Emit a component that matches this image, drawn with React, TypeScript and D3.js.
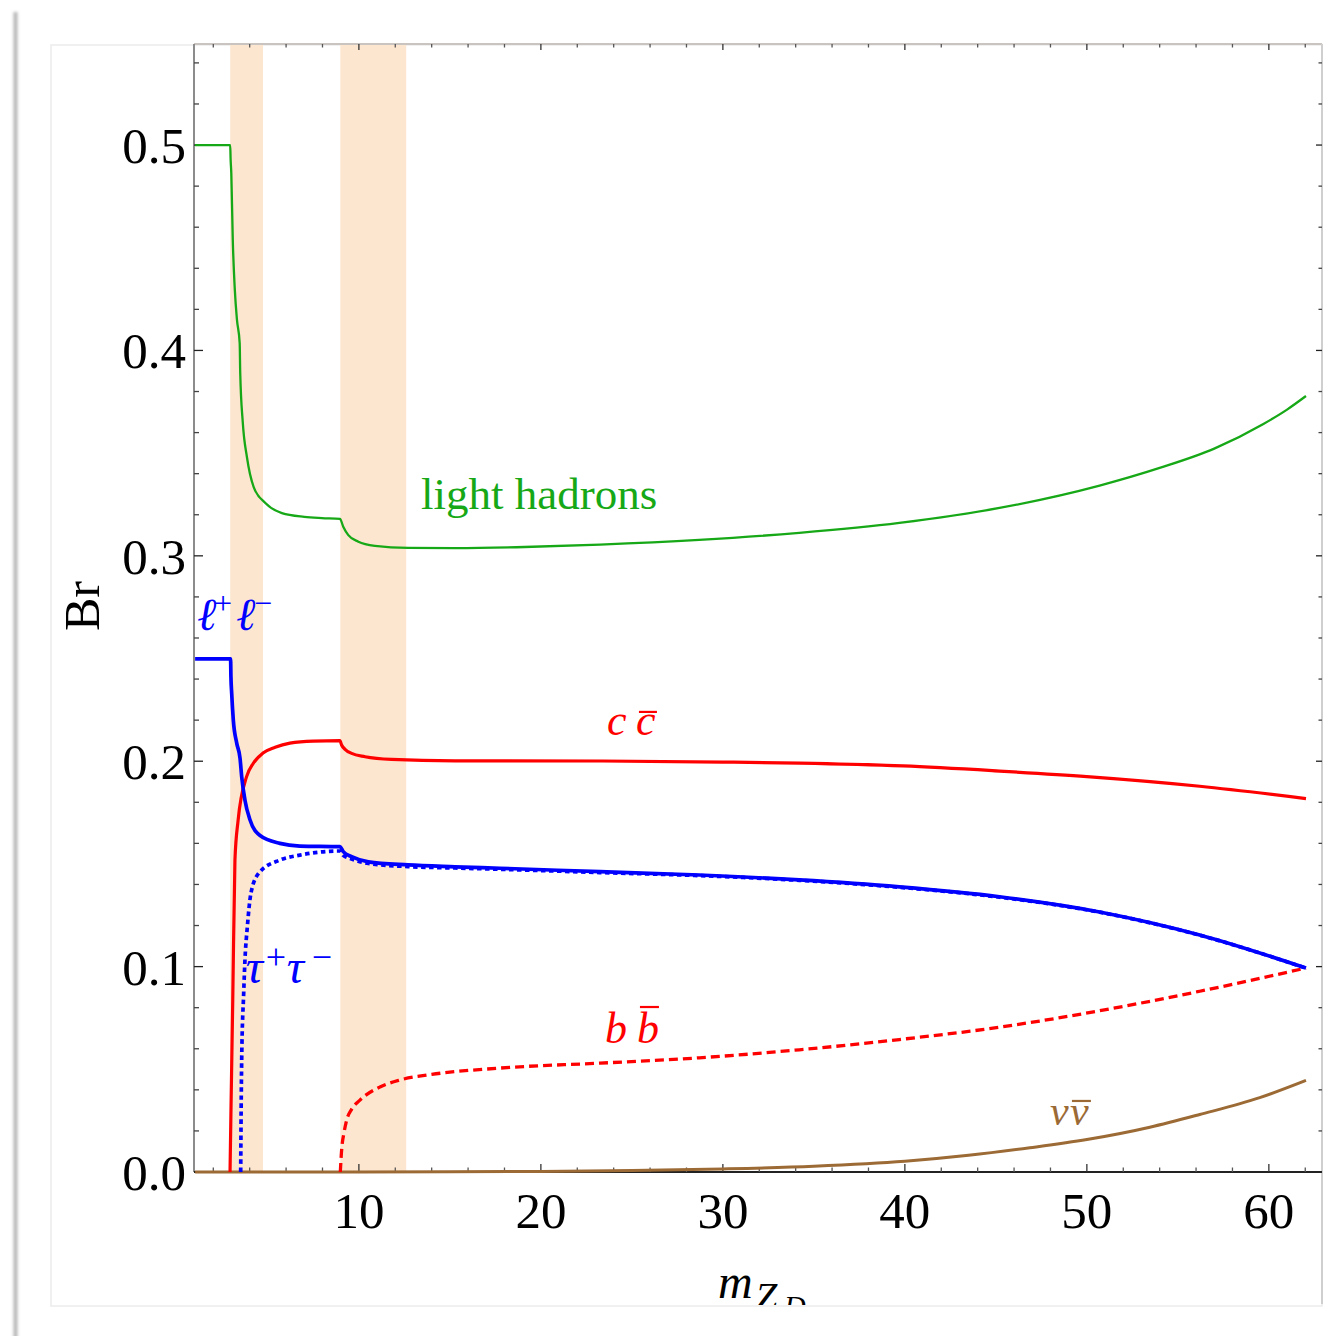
import React from 'react';
import * as d3 from 'd3';

type Pt = [number, number];

// branching ratios, x = m_ZD (GeV)
const lightHadrons: Pt[] = [
  [1.0, 0.5], [2.93, 0.5], [2.95, 0.4935], [2.99, 0.4862], [3.07, 0.454], [3.18, 0.43],
  [3.3, 0.415], [3.45, 0.4036], [3.48, 0.389], [3.62, 0.365], [3.85, 0.348], [4.22, 0.3335],
  [4.86, 0.3257], [5.77, 0.3208], [7.0, 0.319], [7.97, 0.3184], [8.96, 0.318], [9.14, 0.3142],
  [9.42, 0.3101], [9.97, 0.3069], [10.88, 0.3049], [12.71, 0.3039], [15.28, 0.3038],
  [19.1, 0.3043], [23.25, 0.3055], [28.7, 0.3078], [34.2, 0.3112], [39.7, 0.316],
  [45.2, 0.3233], [50.7, 0.3342], [54.0, 0.3428], [57.0, 0.3522], [59.7, 0.3642],
  [61.0, 0.3712], [62.04, 0.3778],
];

const leptonPair: Pt[] = [
  [1.0, 0.2498], [2.95, 0.2498], [2.97, 0.241], [3.01, 0.2332], [3.1, 0.22], [3.29, 0.2087],
  [3.47, 0.2014], [3.56, 0.1925], [3.74, 0.181], [4.02, 0.1714], [4.57, 0.1638], [5.66, 0.16],
  [6.76, 0.1587], [8.96, 0.1584], [9.14, 0.156], [9.6, 0.1535], [10.52, 0.151], [12.7, 0.1495],
  [15.28, 0.1486], [17.75, 0.1479], [23.25, 0.1462], [28.7, 0.1446], [34.2, 0.1422],
  [39.7, 0.1388], [45.2, 0.134], [50.7, 0.1266], [56.2, 0.1154], [62.04, 0.0993],
];

const tauPair: Pt[] = [
  [3.505, 0], [3.53, 0.03], [3.56, 0.0545], [3.67, 0.0871], [3.74, 0.1032], [3.87, 0.1193],
  [4.07, 0.1358], [4.51, 0.1456], [5.66, 0.1519], [6.76, 0.1543], [8.96, 0.1563], [9.13, 0.1543],
  [9.6, 0.1524], [10.52, 0.1502], [12.7, 0.1487], [15.28, 0.148], [17.75, 0.1474], [23.25, 0.1458],
  [28.7, 0.1443], [34.2, 0.142], [39.7, 0.1386], [45.2, 0.1338], [50.7, 0.1265], [56.2, 0.1153],
  [62.04, 0.0993],
];

const charmPair: Pt[] = [
  [2.92, 0], [2.98, 0.035], [3.07, 0.084], [3.19, 0.152], [3.36, 0.171], [3.83, 0.1925],
  [4.2, 0.199], [4.73, 0.204], [5.4, 0.2068], [6.21, 0.2088], [7.5, 0.2098], [8.96, 0.21],
  [9.05, 0.2079], [9.24, 0.2058], [9.6, 0.2038], [10.34, 0.2022], [11.8, 0.2009], [15.28, 0.2002],
  [23.25, 0.2001], [30, 0.1996], [34.2, 0.1991], [39.9, 0.1977], [45.2, 0.1952], [50, 0.1925],
  [56.2, 0.1878], [62.04, 0.1818],
];

const bottomPair: Pt[] = [
  [8.98, 0], [9.03, 0.008], [9.07, 0.0125], [9.18, 0.019], [9.33, 0.0253], [9.6, 0.0305],
  [10.06, 0.035], [11.16, 0.0414], [12.26, 0.0448], [14.0, 0.0475], [17.75, 0.0506],
  [23.25, 0.053], [28.7, 0.0556], [34.2, 0.0595], [39.7, 0.0645], [45.2, 0.0705],
  [50.7, 0.0785], [56.2, 0.088], [62.04, 0.0993],
];

const neutrinoPair: Pt[] = [
  [1, 0], [10, 0], [15, 0.0001], [20, 0.0003], [25, 0.0007], [30, 0.0015], [35, 0.0028],
  [40, 0.0052], [43.5, 0.0081], [46.87, 0.0118], [50, 0.0158], [53.46, 0.0218], [56.2, 0.028],
  [59.5, 0.0362], [62.04, 0.0446],
];

// resonance regions (shaded)
const bands: Pt[] = [[2.93, 4.73], [8.98, 12.6]];

const xMajor = [10, 20, 30, 40, 50, 60];
const xMinor = d3.range(2, 63, 2);
const yMajor = [0, 0.1, 0.2, 0.3, 0.4, 0.5];
const yMinor = d3.range(0, 0.545, 0.02);

const FONT = '"Liberation Serif", "DejaVu Serif", serif';
const GREEN = '#16a816';
const BLUE = '#0000ff';
const RED = '#ff0000';
const BROWN = '#9c6a35';

// glyph runs for the curve labels: [text, dx, dy, fontSize, italic]
type Glyph = [string, number, number, number, boolean];
const leptonGlyphs: Glyph[] = [['ℓ', 0, 0, 46, true], ['+', 17, -16, 32, false], ['ℓ', 39, 0, 46, true], ['−', 57, -16, 32, false]];
const tauGlyphs: Glyph[] = [['τ', 0, 0, 48, true], ['+', 20, -14, 36, false], ['τ', 41, 0, 48, true], ['−', 66, -14, 36, false]];

export default function App() {
  const x = d3.scaleLinear().domain([0.94, 62.92]).range([194, 1322]);
  const y = d3.scaleLinear().domain([0, 0.5492]).range([1172, 44]);
  const [x0, x1] = x.range();
  const [y0, y1] = y.range();

  const line = d3.line<Pt>()
    .x(d => x(d[0]))
    .y(d => y(d[1]))
    .curve(d3.curveMonotoneX);

  const at = (dx: number, dy: number) => `translate(${x(dx)},${y(dy)})`;

  const glyphs = (g: Glyph[], color: string) => g.map(([t, dx, dy, fs, it], i) => (
    <text key={i} x={dx} y={dy} fontSize={fs} fontStyle={it ? 'italic' : 'normal'} fill={color}>{t}</text>
  ));

  return (
    <svg width={1334} height={1336} style={{ position: 'absolute', left: 0, top: 0, background: '#fff' }}
      fontFamily={FONT}>
      <defs>
        <filter id="blur" filterUnits="userSpaceOnUse" x={0} y={0} width={40} height={1336}>
          <feGaussianBlur stdDeviation="1.8" />
        </filter>
        <clipPath id="frameClip">
          <rect x={0} y={0} width={1334} height={1305} />
        </clipPath>
      </defs>

      {/* page shadow and outer frame */}
      <rect x={13.5} y={12} width={4} height={1330} fill="#b5b5b5" filter="url(#blur)" />
      <rect x={51} y={45} width={1271} height={1261} fill="none" stroke="#ececec" strokeWidth={1.5} />

      {/* bands */}
      {bands.map(([a, b], i) => (
        <rect key={i} x={x(a)} y={y1} width={x(b) - x(a)} height={y0 - y1} fill="#fde6cf" />
      ))}

      {/* frame */}
      <line x1={x0} y1={y1} x2={x1} y2={y1} stroke="#c9c4bf" strokeWidth={2} />
      <line x1={x1} y1={y1} x2={x1} y2={1304} stroke="#cfcfcf" strokeWidth={2} />
      <line x1={x0} y1={y1} x2={x0} y2={y0} stroke="#8c8c8c" strokeWidth={2} />
      <line x1={x0} y1={y0} x2={x1} y2={y0} stroke="#222" strokeWidth={2} />

      {/* ticks */}
      {xMinor.map(v => {
        const major = xMajor.includes(v);
        return (
          <g key={'xt' + v} stroke={major ? '#333' : '#555'} strokeWidth={1.3}>
            <line x1={x(v)} x2={x(v)} y1={y0} y2={y0 - (major ? 8 : 4.5)} />
            <line x1={x(v)} x2={x(v)} y1={y1} y2={y1 + (major ? 6 : 3.5)} />
          </g>
        );
      })}
      {yMinor.map((v, i) => {
        const major = i % 5 === 0;
        return (
          <g key={'yt' + i} stroke={major ? '#222' : '#444'} strokeWidth={1.3}>
            <line x1={x0} x2={x0 + (major ? 9 : 5)} y1={y(v)} y2={y(v)} />
            <line x1={x1} x2={x1 - (major ? 6 : 3.5)} y1={y(v)} y2={y(v)} />
          </g>
        );
      })}

      {/* tick labels */}
      {xMajor.map(v => (
        <text key={'xl' + v} x={x(v)} y={1228} fontSize={51} textAnchor="middle" fill="#000">{v}</text>
      ))}
      {yMajor.map(v => (
        <text key={'yl' + v} x={186} y={y(v) + 18} fontSize={51} textAnchor="end" fill="#000">{v.toFixed(1)}</text>
      ))}

      {/* curves */}
      <path d={line(neutrinoPair) ?? ''} fill="none" stroke={BROWN} strokeWidth={3} />
      <path d={line(lightHadrons) ?? ''} fill="none" stroke={GREEN} strokeWidth={2.3} />
      <path d={line(bottomPair) ?? ''} fill="none" stroke={RED} strokeWidth={3.3} strokeDasharray="9,5" />
      <path d={line(charmPair) ?? ''} fill="none" stroke={RED} strokeWidth={3.2} />
      <path d={line(tauPair) ?? ''} fill="none" stroke={BLUE} strokeWidth={3.7} strokeDasharray="4.5,3.5" />
      <path d={line(leptonPair) ?? ''} fill="none" stroke={BLUE} strokeWidth={3.7} />

      {/* curve labels */}
      <text x={x(13.41)} y={y(0.3228)} fontSize={45} fill={GREEN}>light hadrons</text>

      <g transform={at(1.1, 0.2638)}>{glyphs(leptonGlyphs, BLUE)}</g>
      <g transform={at(3.78, 0.092)}>{glyphs(tauGlyphs, BLUE)}</g>

      <g transform={at(23.63, 0.2128)} fill={RED} fontSize={44} fontStyle="italic">
        <text x={0} y={0}>c</text>
        <text x={29} y={0}>c</text>
        <line x1={32} x2={50} y1={-23} y2={-23} stroke={RED} strokeWidth={2.2} />
      </g>

      <g transform={at(23.52, 0.0628)} fill={RED} fontSize={44} fontStyle="italic">
        <text x={0} y={0}>b</text>
        <text x={32} y={0}>b</text>
        <line x1={35} x2={54} y1={-36} y2={-36} stroke={RED} strokeWidth={2.2} />
      </g>

      <g transform={at(47.97, 0.0229)} fill={BROWN} fontSize={42} fontStyle="italic">
        <text x={0} y={0}>ν</text>
        <text x={20} y={0}>ν</text>
        <line x1={22} x2={41} y1={-24} y2={-24} stroke={BROWN} strokeWidth={2.2} />
      </g>

      {/* axis titles */}
      <text transform="translate(99,606) rotate(-90)" fontSize={50} textAnchor="middle" fill="#000">Br</text>
      <g clipPath="url(#frameClip)" fill="#000" fontStyle="italic">
        <text x={718} y={1298} fontSize={48}>m</text>
        <text x={755} y={1310} fontSize={40}>Z</text>
        <text x={784} y={1316} fontSize={30}>D</text>
      </g>
    </svg>
  );
}
